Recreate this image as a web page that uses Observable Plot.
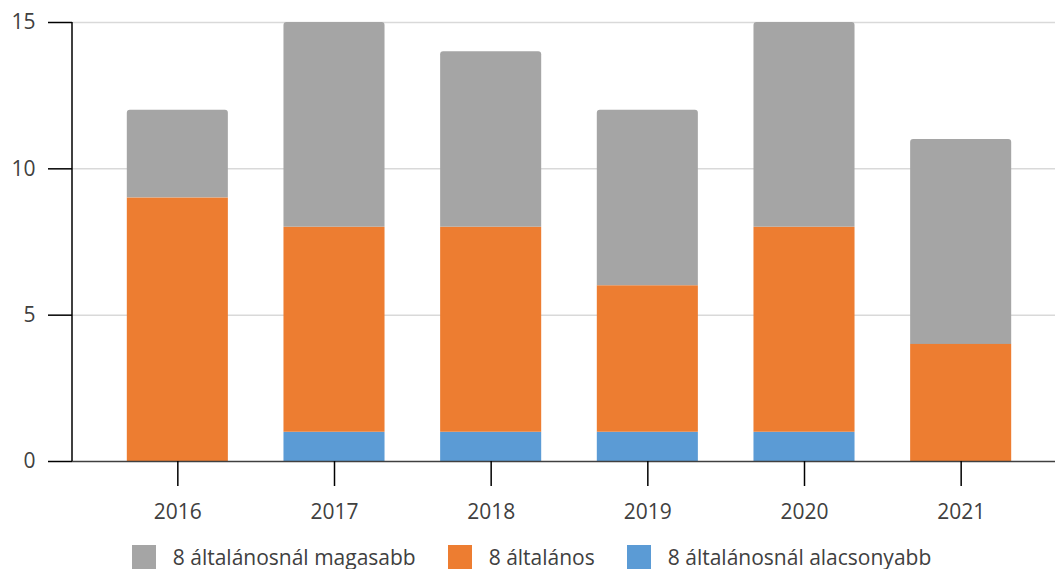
<!DOCTYPE html>
<html><head><meta charset="utf-8">
<script src="https://cdn.jsdelivr.net/npm/d3@7"></script>
<script src="https://cdn.jsdelivr.net/npm/@observablehq/plot@0.6"></script>
<style>
body{margin:0;background:#fff;font-family:"Open Sans",sans-serif;}
#legend{display:flex;justify-content:center;align-items:center;height:34px;padding-top:10px;box-sizing:border-box;font-size:21px;color:#404040;padding-left:8px;}
.item{display:flex;align-items:center;margin:0 16px;}
.sw{width:24px;height:24px;margin-right:17px;}
</style></head><body><div id="chart"></div><div id="legend"></div>
<script>
const years = ["2016","2017","2018","2019","2020","2021"];
const seriesNames = ["8 általánosnál alacsonyabb","8 általános","8 általánosnál magasabb"];
const alacsonyabb = [0,1,1,1,1,0];
const altalanos = [9,7,7,5,7,4];
const magasabb = [3,7,6,6,7,7];
const colors = ["#5B9BD5","#ED7D31","#A5A5A5"];
const yTicks = [0,5,10,15];
const legendOrder = ["8 általánosnál magasabb","8 általános","8 általánosnál alacsonyabb"];

const lower = [alacsonyabb, altalanos];
const lowerData = [];
lower.forEach((vals,i)=>years.forEach((y,j)=>{
  const base = i===0 ? 0 : alacsonyabb[j];
  lowerData.push({year:y, series:seriesNames[i], y1:base, y2:base+vals[j]});
}));
const topData = years.map((y,j)=>({year:y, series:seriesNames[2], y1:alacsonyabb[j]+altalanos[j], y2:alacsonyabb[j]+altalanos[j]+magasabb[j]}));

const yLine = (index, scales, vals, dim) => {
  const l = document.createElementNS("http://www.w3.org/2000/svg","line");
  l.setAttribute("x1", dim.marginLeft); l.setAttribute("x2", dim.marginLeft);
  l.setAttribute("y1", dim.marginTop); l.setAttribute("y2", dim.height - dim.marginBottom);
  l.setAttribute("stroke", "#000"); l.setAttribute("stroke-width", 1.5);
  return l;
};

const chart = Plot.plot({
  width:1055, height:535,
  marginTop:22, marginBottom:74, marginLeft:72, marginRight:0,
  style:{fontFamily:"'Open Sans', sans-serif", fontSize:"21px", color:"#404040", background:"#fff", overflow:"visible"},
  x:{domain:years, range:[99,1039], paddingInner:0.355, paddingOuter:0.1775, round:false, label:null},
  y:{domain:[0,15], label:null},
  color:{domain:seriesNames, range:colors},
  marks:[
    Plot.ruleY(yTicks.filter(d=>d>0), {stroke:"#d9d9d9", strokeWidth:1.5}),
    Plot.barY(topData, {x:"year", y1:"y1", y2:"y2", fill:"series", ry1:3}),
    Plot.barY(lowerData, {x:"year", y1:"y1", y2:"y2", fill:"series"}),
    Plot.ruleY([0], {stroke:"#404040", strokeWidth:1.5}),
    yLine,
    Plot.axisY({ticks:yTicks, tickSize:24, tickPadding:13, stroke:"#000", strokeWidth:1.5, fill:"#404040", label:null}),
    Plot.axisX({tickSize:25, tickPadding:18, stroke:"#000", strokeWidth:1.5, fill:"#404040", label:null})
  ]
});
document.getElementById("chart").appendChild(chart);

const lg = document.getElementById("legend");
legendOrder.forEach(name=>{
  const it = document.createElement("div"); it.className="item";
  const sw = document.createElement("div"); sw.className="sw";
  sw.style.background = colors[seriesNames.indexOf(name)];
  const t = document.createElement("span"); t.textContent = name;
  it.appendChild(sw); it.appendChild(t); lg.appendChild(it);
});
</script></body></html>
